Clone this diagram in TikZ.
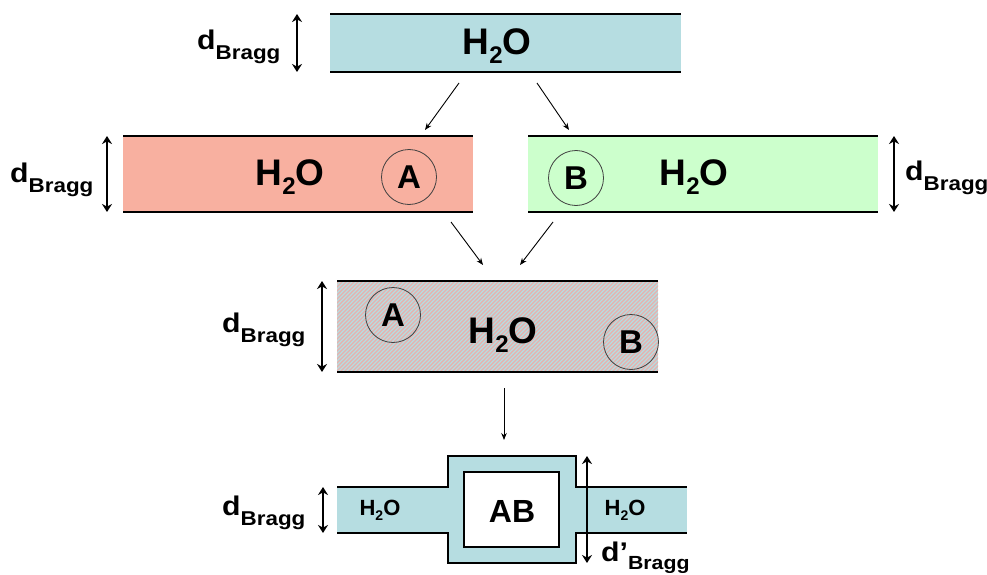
\documentclass[tikz,border=0pt]{standalone}
\usepackage{fontspec}
\setmainfont{Liberation Sans}
\usetikzlibrary{arrows.meta,calc}
\definecolor{layblue}{RGB}{182,221,225}
\definecolor{layred}{RGB}{248,176,160}
\definecolor{laygreen}{RGB}{204,255,204}
\definecolor{hpink}{RGB}{232,176,172}
\newcommand\dBragg{\scalebox{1.12}[1]{d\raisebox{-10pt}{\fontsize{20}{20}\selectfont Bragg}}}
\newcommand\dpBragg{\scalebox{1.12}[1]{d'\raisebox{-8pt}{\fontsize{19}{19}\selectfont Bragg}}}
\newcommand\water{H\raisebox{-9pt}{\fontsize{24}{24}\selectfont 2}O}
\newcommand\swater{H\raisebox{-5pt}{\fontsize{14}{14}\selectfont 2}O}
\begin{document}
\begin{tikzpicture}[x=1pt,y=-1pt,
  layer/.style={inner sep=0pt,outer sep=0pt,draw=none},
  edge/.style={line width=2.2pt,black},
  dim/.style={line width=1.8pt,{Stealth[length=8pt,width=10pt]}-{Stealth[length=8pt,width=10pt]}},
  conn/.style={line width=0.9pt,-{Stealth[length=7pt,width=5.5pt]}},
  lab/.style={font=\bfseries\fontsize{27}{27}\selectfont,inner sep=0pt},
  big/.style={font=\bfseries\fontsize{37}{37}\selectfont,inner sep=0pt,anchor=base},
  circ/.style={circle,draw=black!75,line width=0.8pt,minimum size=55pt,inner sep=0pt,font=\bfseries\fontsize{33}{33}\selectfont},
  small/.style={font=\bfseries\fontsize{22}{22}\selectfont,inner sep=0pt,anchor=base}]
\useasboundingbox (0,0) rectangle (987,575);
\fill[white] (0,0) rectangle (987,575);

% top layer
\node[layer,fill=layblue,minimum width=351pt,minimum height=58pt] (top) at (505.5,43) {};
\draw[edge] (top.north west) -- (top.north east);
\draw[edge] (top.south west) -- (top.south east);
\node[big] (tw) at (497,55) {\water};
\coordinate (dx1) at (297,0);
\draw[dim] (dx1 |- top.north) -- (dx1 |- top.south);
\node[lab,anchor=base west] (l1) at (197,50) {\dBragg};

% red layer
\node[layer,fill=layred,minimum width=350pt,minimum height=76pt] (red) at (298,174) {};
\draw[edge] (red.north west) -- (red.north east);
\draw[edge] (red.south west) -- (red.south east);
\node[big] (rw) at (290,185) {\water};
\node[circ] (ca) at (409,177) {A};
\coordinate (dx2) at (107,0);
\draw[dim] (dx2 |- red.north) -- (dx2 |- red.south);
\node[lab,anchor=base west] (l2) at (10,182) {\dBragg};

% green layer
\node[layer,fill=laygreen,minimum width=350pt,minimum height=76pt] (green) at (703,174) {};
\draw[edge] (green.north west) -- (green.north east);
\draw[edge] (green.south west) -- (green.south east);
\node[big] (gw) at (694,185) {\water};
\node[circ] (cb) at (576,178) {B};
\coordinate (dx3) at (894,0);
\draw[dim] (dx3 |- green.north) -- (dx3 |- green.south);
\node[lab,anchor=base west] (l3) at (905,180) {\dBragg};

% hatched layer
\node[layer,fill=layblue,minimum width=321pt,minimum height=91pt] (mix) at (497.5,326.5) {};
\begin{scope}
  \clip (mix.north west) rectangle (mix.south east);
  \foreach \i in {-100,-96,...,680} {
    \draw[hpink,line width=1.3pt] (\i,380) -- (\i+100,280);
  }
\end{scope}
\draw[edge] (mix.north west) -- (mix.north east);
\draw[edge] (mix.south west) -- (mix.south east);
\node[big] (mw) at (503,343) {\water};
\node[circ] (ma) at (393,315) {A};
\node[circ] (mb) at (631,342) {B};
\coordinate (dx4) at (322,0);
\draw[dim] (dx4 |- mix.north) -- (dx4 |- mix.south);
\node[lab,anchor=base west] (l4) at (222,332) {\dBragg};

% connectors
\coordinate (t1) at (459,83);  \coordinate (r1) at (425,130);
\coordinate (t2) at (537,83);  \coordinate (g1) at (569,130);
\coordinate (r2) at (451,222); \coordinate (m1) at (483,265);
\coordinate (g2) at (553,222); \coordinate (m2) at (520,265);
\coordinate (m3) at (504,388); \coordinate (b1) at (504,440);
\draw[conn] (t1) -- (r1);
\draw[conn] (t2) -- (g1);
\draw[conn] (r2) -- (m1);
\draw[conn] (g2) -- (m2);
\draw[conn] (m3) -- (b1);

% bottom structure
\node[layer,fill=layblue,minimum width=350pt,minimum height=46pt] (thin) at (512,510) {};
\node[layer,fill=layblue,minimum width=128pt,minimum height=107pt] (box) at (512,509.5) {};
\draw[edge] (thin.north west) -- (thin.north west -| box.west) -- (box.north west) -- (box.north east) -- (thin.north east -| box.east) -- (thin.north east);
\draw[edge] (thin.south west) -- (thin.south west -| box.west) -- (box.south west) -- (box.south east) -- (thin.south east -| box.east) -- (thin.south east);
\node[draw,fill=white,line width=1.3pt,minimum width=95pt,minimum height=75pt,inner sep=0pt] (ab) at (511.5,509.5) {};
\node[inner sep=0pt,anchor=base,font=\bfseries\fontsize{32}{32}\selectfont] (abt) at (512,522) {AB};
\node[small] (bw1) at (380,515) {\swater};
\node[small] (bw2) at (625,515) {\swater};
\coordinate (dx5) at (323,0);
\draw[dim] (dx5 |- thin.north) -- (dx5 |- thin.south);
\node[lab,anchor=base west] (l5) at (222,515) {\dBragg};
\coordinate (dx6) at (587,0);
\draw[dim] (dx6 |- box.north) -- (dx6 |- box.south);
\node[lab,anchor=base west] (l6) at (601,561) {\dpBragg};
\end{tikzpicture}
\end{document}
